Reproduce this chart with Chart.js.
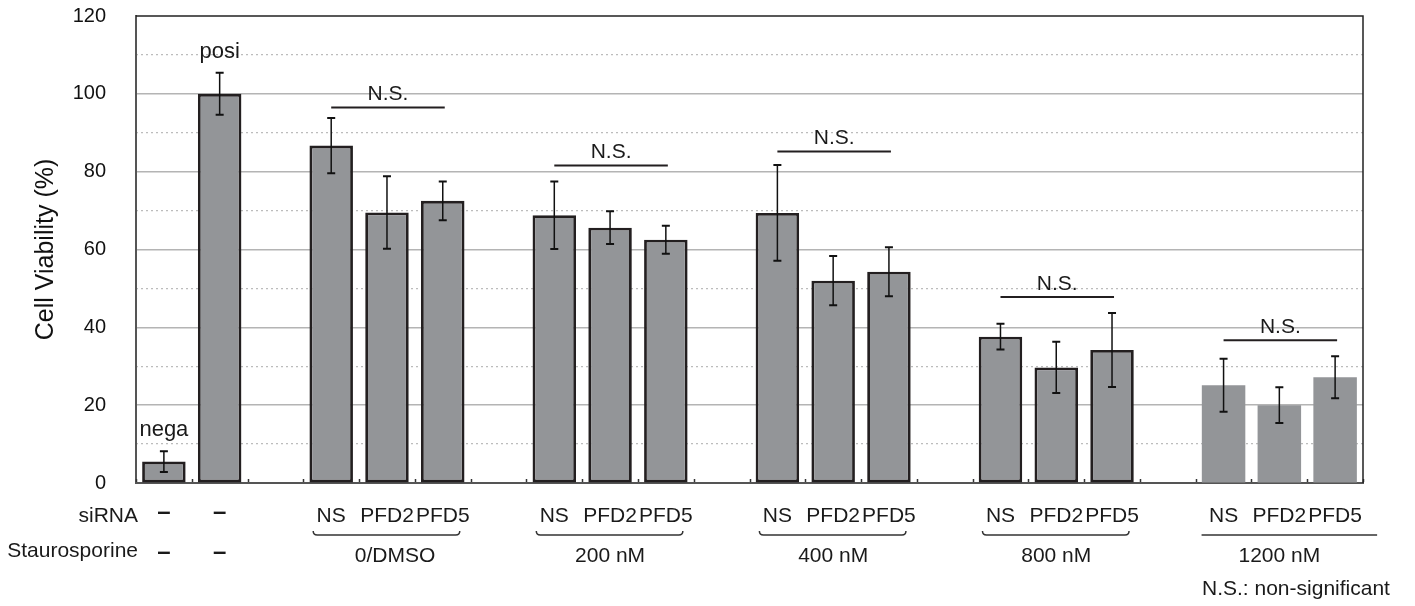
<!DOCTYPE html>
<html><head><meta charset="utf-8">
<script src="https://cdn.jsdelivr.net/npm/chart.js@4"></script>
<style>html,body{margin:0;padding:0;background:#fff}#wrap{width:1415px;height:606px;position:relative}</style>
</head><body><div id="wrap"><canvas id="c" width="1415" height="606"></canvas></div>
<script>
const categories = ['nega','posi','gap1','NS','PFD2','PFD5','gap2','NS','PFD2','PFD5','gap3','NS','PFD2','PFD5','gap4','NS','PFD2','PFD5','gap5','NS','PFD2','PFD5'];
const siRNALabels = ['–','–','','NS','PFD2','PFD5','','NS','PFD2','PFD5','','NS','PFD2','PFD5','','NS','PFD2','PFD5','','NS','PFD2','PFD5'];
const stauroLabels = ['–','–'];
const controlLabels = ['nega','posi'];
const viability = [5.5,100.0,null,86.7,69.5,72.5,null,68.8,65.6,62.5,null,69.4,52.0,54.3,null,37.6,29.7,34.2,null,25.1,20.0,27.2];
const errorBars = [2.65,5.4,null,7.1,9.3,5.0,null,8.7,4.2,3.6,null,12.3,6.3,6.3,null,3.3,6.6,9.5,null,6.8,4.6,5.4];
const groupLabels = ['0/DMSO','200 nM','400 nM','800 nM','1200 nM'];
const groupFirst = [3,7,11,15,19];
const nsLevels = [96.5,81.6,85.2,47.8,36.7];
const nsText = 'N.S.';
const footnote = 'N.S.: non-significant';
const rowTitles = ['siRNA','Staurosporine'];
const yTitle = 'Cell Viability (%)';

const FONT = '"Liberation Sans", Arial, Helvetica, sans-serif';
const INK = '#1a1a1a';

const annot = {
  id: 'annot',
  afterDatasetsDraw(chart) {
    const ctx = chart.ctx, x = chart.scales.x, y = chart.scales.y, a = chart.chartArea;
    const catW = x.getPixelForValue(1) - x.getPixelForValue(0);
    ctx.save();
    // minor ticks at category boundaries
    ctx.strokeStyle = '#333'; ctx.lineWidth = 1.5;
    for (let i = 0; i <= categories.length; i++) {
      const px = Math.round(x.getPixelForValue(0) - catW/2 + i*catW) + 0.5;
      ctx.beginPath(); ctx.moveTo(px, a.bottom - 1); ctx.lineTo(px, a.bottom - 4); ctx.stroke();
    }
    // error bars
    ctx.strokeStyle = '#111';
    viability.forEach((v, i) => {
      if (v == null) return;
      const cx = x.getPixelForValue(i);
      const t = y.getPixelForValue(v + errorBars[i]);
      const b = y.getPixelForValue(v - errorBars[i]);
      ctx.lineWidth = 1.5;
      ctx.beginPath(); ctx.moveTo(cx, t); ctx.lineTo(cx, b); ctx.stroke();
      ctx.lineWidth = 2;
      ctx.beginPath(); ctx.moveTo(cx - 4, t); ctx.lineTo(cx + 4, t);
      ctx.moveTo(cx - 4, b); ctx.lineTo(cx + 4, b); ctx.stroke();
    });
    // N.S. lines
    ctx.fillStyle = INK; ctx.strokeStyle = '#231f20'; ctx.lineWidth = 2;
    ctx.font = '21px ' + FONT; ctx.textAlign = 'center'; ctx.textBaseline = 'alphabetic';
    groupFirst.forEach((g, k) => {
      const x1 = x.getPixelForValue(g), x2 = x.getPixelForValue(g + 2) + 2;
      const py = y.getPixelForValue(nsLevels[k]);
      ctx.beginPath(); ctx.moveTo(x1, py); ctx.lineTo(x2, py); ctx.stroke();
      ctx.fillText(nsText, (x1 + x2) / 2, py - 7);
    });
    // control labels
    ctx.font = '22px ' + FONT;
    controlLabels.forEach((t, i) => {
      const top = y.getPixelForValue(viability[i] + errorBars[i]);
      ctx.fillText(t, x.getPixelForValue(i), top - 15);
    });
    // frame top/right
    ctx.strokeStyle = '#222'; ctx.lineWidth = 1.5;
    ctx.beginPath(); ctx.moveTo(a.left, a.top); ctx.lineTo(a.right, a.top); ctx.lineTo(a.right, a.bottom); ctx.stroke();

    // bottom labels
    ctx.fillStyle = INK;
    ctx.textBaseline = 'middle';
    ctx.font = '21px ' + FONT;
    const row1 = 516, row2 = 551;
    siRNALabels.forEach((t, i) => {
      if (!t) return;
      if (t === '–') { ctx.font = 'bold 24px ' + FONT; ctx.fillText(t, x.getPixelForValue(i), row1 - 4); ctx.font = '21px ' + FONT; }
      else ctx.fillText(t, x.getPixelForValue(i), row1);
    });
    ctx.font = 'bold 24px ' + FONT;
    stauroLabels.forEach((t, i) => ctx.fillText(t, x.getPixelForValue(i), row2 + 1));
    ctx.font = '21px ' + FONT;
    ctx.textAlign = 'right';
    ctx.fillText(rowTitles[0], 138, row1);
    ctx.fillText(rowTitles[1], 138, row2);
    ctx.textAlign = 'center';
    // brackets & group labels
    ctx.strokeStyle = '#333'; ctx.lineWidth = 1.5;
    const by = 535;
    groupFirst.forEach((g, k) => {
      const last = k === groupFirst.length - 1;
      const x1 = x.getPixelForValue(g) - (last ? 22 : 18);
      const x2 = x.getPixelForValue(g + 2) + (last ? 42 : 17);
      ctx.beginPath();
      if (last) { ctx.moveTo(x1, by); ctx.lineTo(x2, by); }
      else {
        ctx.moveTo(x1, by - 4); ctx.quadraticCurveTo(x1, by, x1 + 4, by);
        ctx.lineTo(x2 - 4, by); ctx.quadraticCurveTo(x2, by, x2, by - 4);
      }
      ctx.stroke();
      ctx.fillText(groupLabels[k], x.getPixelForValue(g + 1) + (k === 0 ? 8 : 0), 556);
    });
    ctx.textAlign = 'left';
    ctx.fillText(footnote, 1202, 589);
    ctx.restore();
  }
};

new Chart(document.getElementById('c'), {
  type: 'bar',
  data: {
    labels: categories,
    datasets: [{
      data: viability,
      backgroundColor: '#939598',
      borderColor: '#231f20',
      borderWidth: ctx => ctx.dataIndex >= 19 ? 0 : 2.8,
      borderSkipped: false,
      categoryPercentage: 1,
      barPercentage: 0.78
    }]
  },
  options: {
    responsive: false, animation: false, devicePixelRatio: 1,
    layout: { padding: { top: 16, right: 52, bottom: 0, left: 0 } },
    plugins: { legend: { display: false }, tooltip: { enabled: false } },
    scales: {
      x: {
        grid: { display: false },
        ticks: { display: false },
        border: { color: '#555', width: 2 },
        afterFit: s => { s.height = 123; s.paddingLeft = 0; s.paddingRight = 0; }
      },
      y2: {
        position: 'left', min: 0, max: 120,
        ticks: { display: false, stepSize: 10 },
        grid: { drawTicks: false, lineWidth: 1.2, color: c => (c.tick && c.tick.value % 20 === 10) ? '#bcbcbc' : 'rgba(0,0,0,0)' },
        border: { display: false, dash: [2, 3] },
        afterFit: s => { s.width = 0; s.paddingTop = 0; s.paddingBottom = 0; }
      },
      y: {
        position: 'left', min: 0, max: 120,
        ticks: { stepSize: 20, color: '#111', font: { family: FONT, size: 20 }, padding: 30 },
        grid: { drawTicks: false, lineWidth: 1.5, color: c => (c.tick && c.tick.value === 120) ? 'rgba(0,0,0,0)' : '#b4b4b4' },
        border: { color: '#555', width: 2 },
        title: { display: true, text: yTitle, color: '#111', font: { family: FONT, size: 25 }, padding: { top: 31, bottom: 0 } },
        afterFit: s => { s.width = 136; s.paddingTop = 0; s.paddingBottom = 0; }
      }
    }
  },
  plugins: [annot]
});
</script></body></html>
